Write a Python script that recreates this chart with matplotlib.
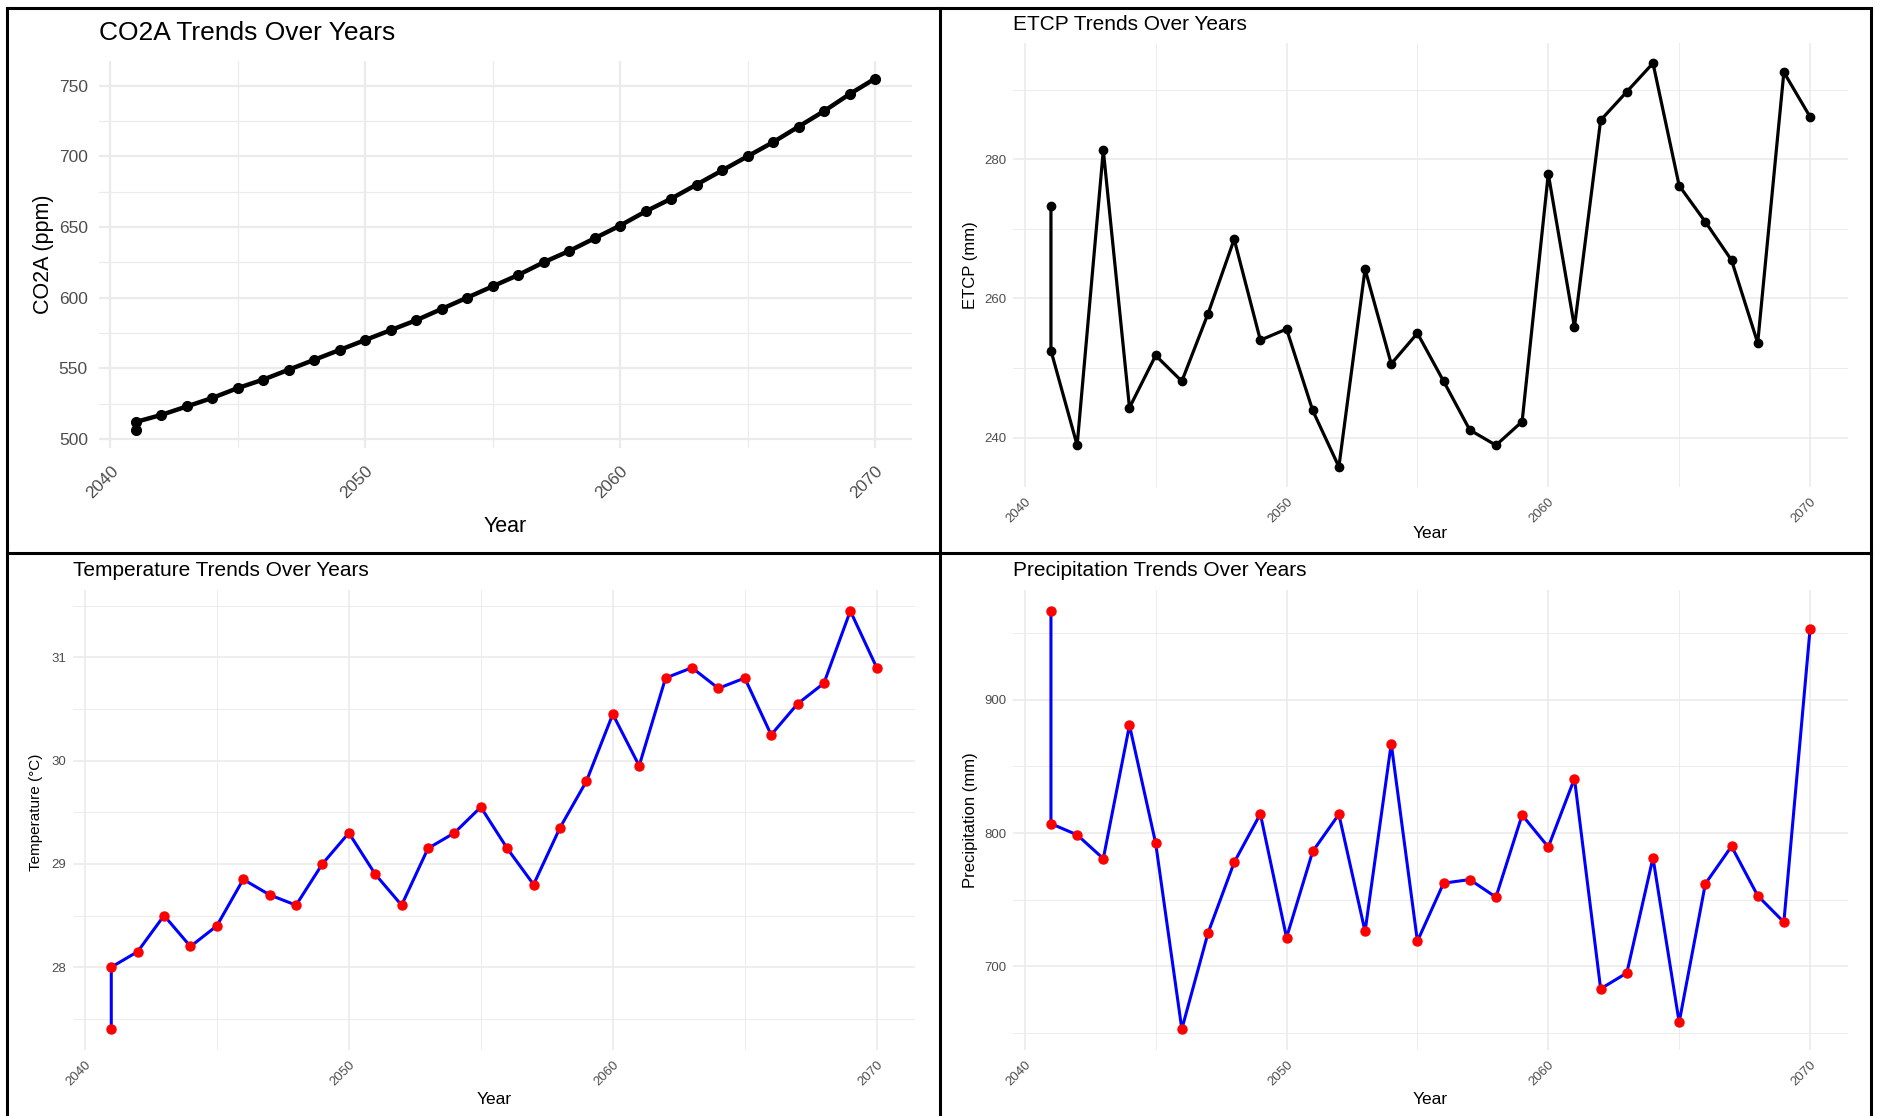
import matplotlib
matplotlib.use("Agg")
import matplotlib.pyplot as plt
from matplotlib.ticker import MultipleLocator, FixedLocator
from matplotlib.lines import Line2D

plt.rcParams['font.family'] = ['Liberation Sans', 'DejaVu Sans']

years = [2041, 2041, 2042, 2043, 2044, 2045, 2046, 2047, 2048, 2049, 2050,
         2051, 2052, 2053, 2054, 2055, 2056, 2057, 2058, 2059, 2060,
         2061, 2062, 2063, 2064, 2065, 2066, 2067, 2068, 2069, 2070]

co2a = [506, 512, 517, 523, 529, 536, 542, 549, 556, 563, 570,
        577, 584, 592, 600, 608, 616, 625, 633, 642, 651,
        661, 670, 680, 690, 700, 710, 721, 732, 744, 755]

etcp = [273.3, 252.5, 238.9, 281.3, 244.3, 251.8, 248.1, 257.8, 268.5, 254.0, 255.6,
        243.9, 235.8, 264.2, 250.6, 255.0, 248.1, 241.1, 238.9, 242.3, 277.9,
        255.9, 285.6, 289.7, 293.8, 276.2, 271.0, 265.5, 253.6, 292.5, 286.1]

temperature = [27.4, 28.0, 28.15, 28.5, 28.2, 28.4, 28.85, 28.7, 28.6, 29.0, 29.3,
               28.9, 28.6, 29.15, 29.3, 29.55, 29.15, 28.8, 29.35, 29.8, 30.45,
               29.95, 30.8, 30.9, 30.7, 30.8, 30.25, 30.55, 30.75, 31.45, 30.9]

precipitation = [966.5, 807, 798.6, 780.8, 880.8, 792.4, 653, 725, 778, 814.3, 721.6,
                 786.2, 814, 726.2, 867, 718.9, 762.4, 765.1, 751.9, 813.5, 789.5,
                 840.8, 683.2, 695.1, 781.4, 658.1, 761.9, 790, 753, 733.2, 952.7]

x_ticks = [2040, 2050, 2060, 2070]
x_minor = [2045, 2055, 2065]

W, H = 1879, 1116
fig = plt.figure(figsize=(W / 100, H / 100), dpi=100)
fig.patch.set_facecolor('white')


def fx(px):
    return px / W


def fy(py):
    return 1 - py / H


def make_axes(x0, y0, x1, y1):
    return fig.add_axes([fx(x0), fy(y1), fx(x1 - x0), (y1 - y0) / H])


def style(ax, ymaj, ymin, tick_fs, ypad, xpad, glw):
    for s in ax.spines.values():
        s.set_visible(False)
    ax.set_axisbelow(True)
    ax.xaxis.set_major_locator(FixedLocator(x_ticks))
    ax.xaxis.set_minor_locator(FixedLocator(x_minor))
    ax.yaxis.set_major_locator(MultipleLocator(ymaj))
    ax.yaxis.set_minor_locator(MultipleLocator(ymin))
    ax.grid(which='major', color='#EBEBEB', lw=glw)
    ax.grid(which='minor', color='#EBEBEB', lw=glw * 0.55)
    ax.tick_params(which='both', length=0)
    ax.tick_params(axis='y', labelsize=tick_fs, labelcolor='#4D4D4D', pad=ypad)
    ax.tick_params(axis='x', labelsize=tick_fs, labelcolor='#4D4D4D', pad=xpad)
    ax.set_xticklabels([str(t) for t in x_ticks], rotation=45,
                       ha='right', va='top', rotation_mode='anchor')
    ax.margins(0.05)


# ---- Top-left: CO2A ----
ax1 = make_axes(99, 61, 912, 448)
ax1.plot(years, co2a, color='black', lw=3.2, marker='o', ms=7, zorder=3)
style(ax1, 50, 25, 12.5, 8, 11, 1.6)
fig.text(fx(99), fy(33.5), 'CO2A Trends Over Years', fontsize=19,
         ha='left', va='center')
fig.text(fx(43.5), fy(254.5), 'CO2A (ppm)', fontsize=15.5, rotation=90,
         ha='center', va='center')
fig.text(fx(505.5), fy(527), 'Year', fontsize=15.5, ha='center', va='center')

# ---- Top-right: ETCP ----
ax2 = make_axes(1013, 43, 1848, 487)
ax2.plot(years, etcp, color='black', lw=2.3, marker='o', ms=6, zorder=3)
style(ax2, 20, 10, 9.5, 5, 6, 1.2)
fig.text(fx(1013), fy(24), 'ETCP Trends Over Years', fontsize=15,
         ha='left', va='center')
fig.text(fx(970), fy(265), 'ETCP (mm)', fontsize=12, rotation=90,
         ha='center', va='center')
fig.text(fx(1430.5), fy(534), 'Year', fontsize=12.5, ha='center', va='center')

# ---- Bottom-left: Temperature ----
ax3 = make_axes(73, 590, 915, 1050)
ax3.plot(years, temperature, color='blue', lw=2.2, zorder=3)
ax3.plot(years, temperature, color='red', lw=0, marker='o', ms=6.5, zorder=4)
style(ax3, 1, 0.5, 9.5, 5, 6, 1.2)
fig.text(fx(73), fy(570), 'Temperature Trends Over Years', fontsize=15,
         ha='left', va='center')
fig.text(fx(36), fy(812), 'Temperature (°C)', fontsize=11, rotation=90,
         ha='center', va='center')
fig.text(fx(494), fy(1099), 'Year', fontsize=12.5, ha='center', va='center')

# ---- Bottom-right: Precipitation ----
ax4 = make_axes(1013, 590, 1848, 1050)
ax4.plot(years, precipitation, color='blue', lw=2.2, zorder=3)
ax4.plot(years, precipitation, color='red', lw=0, marker='o', ms=6.5, zorder=4)
style(ax4, 100, 50, 9.5, 5, 6, 1.2)
fig.text(fx(1013), fy(570), 'Precipitation Trends Over Years', fontsize=15,
         ha='left', va='center')
fig.text(fx(970), fy(820), 'Precipitation (mm)', fontsize=12, rotation=90,
         ha='center', va='center')
fig.text(fx(1430.5), fy(1099), 'Year', fontsize=12.5, ha='center', va='center')

# ---- Panel frames ----
frame_lw = 2.2
for (xa, ya, xb, yb) in [(7, 8, 1871, 8), (7, 8, 7, 1116), (1871, 8, 1871, 1116),
                         (940, 8, 940, 1116), (7, 553, 1871, 553)]:
    fig.add_artist(Line2D([fx(xa), fx(xb)], [fy(ya), fy(yb)], color='black',
                          lw=frame_lw, transform=fig.transFigure))

fig.savefig('out.png', dpi=100, facecolor='white')
